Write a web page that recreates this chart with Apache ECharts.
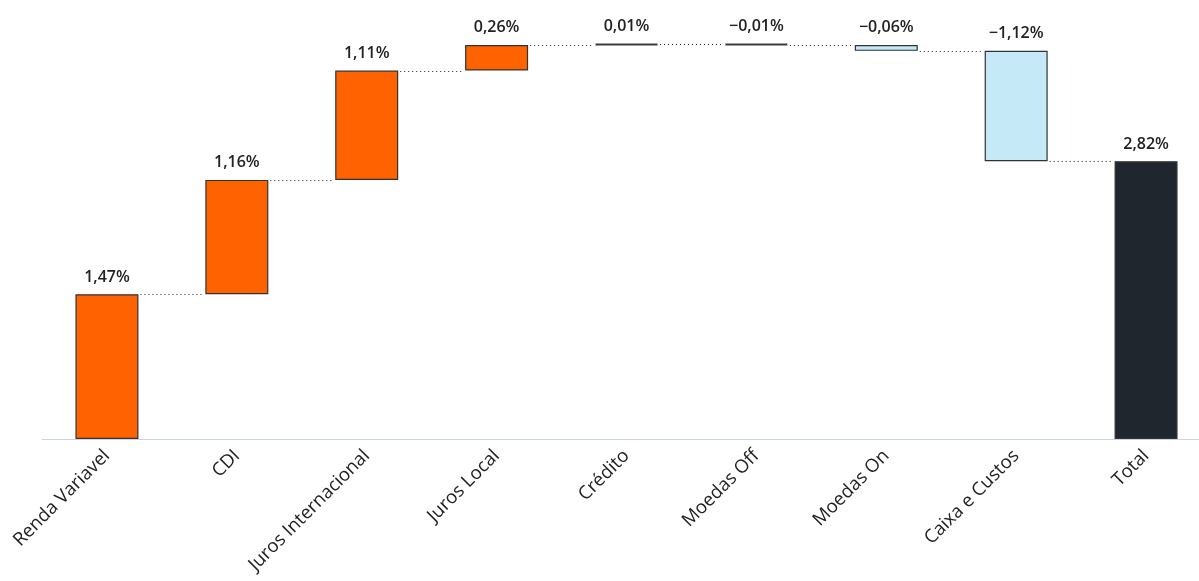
<!DOCTYPE html>
<html>
<head>
<meta charset="utf-8">
<script src="https://cdn.jsdelivr.net/npm/echarts@6/dist/echarts.min.js"></script>
<style>
html,body{margin:0;padding:0;background:#fff;overflow:hidden;width:1199px;height:581px;}
#chart{width:1211px;height:581px;}
</style>
</head>
<body>
<div id="chart"></div>
<script>
const categories = ['Renda Variavel','CDI','Juros Internacional','Juros Local','Crédito','Moedas Off','Moedas On','Caixa e Custos','Total'];
const deltas = [1.47, 1.16, 1.11, 0.26, 0.01, -0.01, -0.06, -1.12];
const totalValue = 2.82;

const colPos = '#FF6200';
const colNeg = '#C5E9F7';
const colTotal = '#1F262E';

// build waterfall pieces
const baseData = [];
const barData = [];
const levels = [];
let cum = 0;
deltas.forEach((d, i) => {
  const next = cum + d;
  baseData.push(Math.min(cum, next));
  const tiny = Math.abs(d) < 0.02;
  barData.push({
    value: Math.abs(d), raw: d,
    itemStyle: {color: d >= 0 ? colPos : colNeg, borderColor: tiny ? '#3a3a3a' : '#333', borderWidth: tiny ? 2 : 1.2}
  });
  cum = next;
  levels.push([i, cum]);
});
baseData.push(0);
barData.push({value: totalValue, raw: totalValue, itemStyle: {color: colTotal}});

function fmt(v){
  const s = Math.abs(v).toFixed(2).replace('.', ',') + '%';
  return (v < 0 ? '\u2212' : '') + s;
}

const BAR_W = 63;
const chart = echarts.init(document.getElementById('chart'));
chart.setOption({
  animation: false,
  textStyle: {fontFamily: 'Open Sans'},
  grid: {left: 42, top: 40, right: 0, height: 399, containLabel: false},
  xAxis: {
    type: 'category',
    data: categories,
    axisLine: {lineStyle: {color: '#c8d4ec', width: 1}},
    axisTick: {show: false},
    axisLabel: {rotate: 45, fontSize: 18.5, color: '#222', margin: 14, fontFamily: 'Open Sans', interval: 0}
  },
  yAxis: {
    type: 'value', min: 0, max: 4.05, show: false,
    splitLine: {show: false}
  },
  series: [
    {
      type: 'bar', stack: 'w', data: baseData, barWidth: BAR_W,
      itemStyle: {color: 'transparent'}, silent: true
    },
    {
      type: 'bar', stack: 'w', data: barData, barWidth: BAR_W,
      itemStyle: {borderColor: '#333', borderWidth: 1.2},
      label: {
        show: true, position: 'top', distance: 9,
        fontSize: 16, fontWeight: 600, color: '#222', fontFamily: 'Open Sans',
        formatter: p => fmt(p.data.raw)
      },
      z: 3
    },
    {
      type: 'custom',
      data: levels,
      z: 1,
      renderItem: function(params, api){
        const i = api.value(0);
        const lv = api.value(1);
        const p1 = api.coord([i, lv]);
        const p2 = api.coord([i + 1, lv]);
        const y = Math.round(p1[1]) + 0.5;
        return {
          type: 'line',
          shape: {x1: p1[0] + BAR_W/2 + 2, y1: y, x2: p2[0] - BAR_W/2 - 1, y2: y},
          style: {stroke: '#222', lineWidth: 1, lineDash: [1, 3]}
        };
      }
    }
  ]
});
</script>
</body>
</html>
